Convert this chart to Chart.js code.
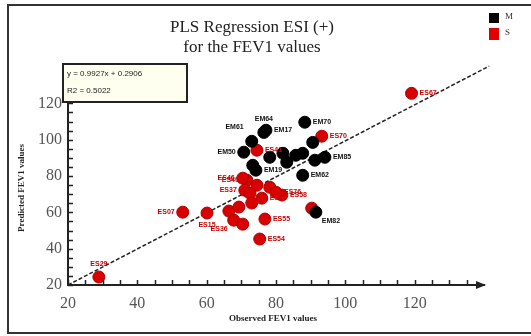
<!DOCTYPE html>
<html>
<head>
<meta charset="utf-8">
<script src="https://cdn.jsdelivr.net/npm/chart.js@4"></script>
<style>
  html, body { margin: 0; padding: 0; background: #fff; }
  #wrap { position: relative; width: 531px; height: 336px; overflow: hidden; }
  #frame { position: absolute; left: 7px; top: 4px; width: 540px; height: 330px;
           border: 2px solid #333; box-sizing: border-box; pointer-events: none; }
  canvas { position: absolute; left: 0; top: 0; }
</style>
</head>
<body>
<div id="wrap">
  <canvas id="chart" width="531" height="336"></canvas>
  <div id="frame"></div>
</div>
<script>
// ── Data ─────────────────────────────────────────────────────
const xTicks = [20, 40, 60, 80, 100, 120];
const yTicks = [20, 40, 60, 80, 100, 120];

// group M (black)
const mNames = ['EM70', 'EM17', 'EM64', 'EM61', 'EM50', 'EM41', 'EM73', 'EM88', 'EM85', 'EM77',
                'EM45', 'EM33', 'EM19', 'EM62', 'EM82', 'EM58', 'EM27'];
const mObserved  = [88.3, 77.1, 76.5, 73.0, 70.7, 82.0, 87.7, 90.6, 94.1, 91.2,
                    83.1, 73.3, 74.2, 87.7, 91.5, 85.7, 78.2];
const mPredicted = [109.6, 105.2, 104.0, 99.1, 93.1, 92.5, 92.5, 98.5, 90.3, 88.7,
                    87.6, 85.9, 83.2, 80.4, 60.1, 91.4, 90.3];
const mLabelSide = ['r', 'r', 't', 'tl', 'l', 'n', 'n', 'n', 'r', 'n',
                    'n', 'n', 'r', 'r', 'br', 'n', 'n'];

// group S (red)
const sNames = ['ES67', 'ES41', 'ES70', 'ES40', 'ES46', 'ES49', 'ES21', 'ES37', 'ES50', 'ES23',
                'ES60', 'ES58', 'ES07', 'ES15', 'ES31', 'ES22', 'ES36', 'ES33', 'ES54', 'ES55',
                'ES29', 'ES82', 'ES76'];
const sObserved  = [119.1, 74.5, 93.2, 71.6, 70.4, 74.5, 78.2, 71.0, 72.5, 75.9,
                    73.0, 81.7, 53.1, 60.1, 66.4, 69.3, 67.8, 70.4, 75.3, 76.8,
                    28.9, 90.3, 80.0];
const sPredicted = [125.5, 94.2, 101.9, 77.7, 78.8, 74.9, 73.8, 72.2, 70.5, 67.8,
                    65.1, 69.5, 60.1, 59.6, 60.7, 62.9, 55.7, 53.5, 45.3, 56.3,
                    24.4, 62.3, 71.0];
const sLabelSide = ['r', 'r', 'r', 'l', 'l', 'n', 'n', 'l', 'n', 'r',
                    'n', 'r', 'l', 'b', 'n', 'n', 'bl', 'n', 'r', 'r',
                    't', 'n', 'r'];

// dashed regression line end points
const fitX = [20, 141.5];
const fitY = [20, 140.5];
const fitText = ['y = 0.9927x + 0.2906', 'R2 = 0.5022'];

const toPoints = (xs, ys) => xs.map((x, i) => ({ x, y: ys[i] }));

// ── Decorations: title, legend, fit box, axis titles, point labels ──
const decor = {
  id: 'decor',
  afterDatasetsDraw(chart) {
    const ctx = chart.ctx;
    ctx.save();

    // point labels
    ctx.font = 'bold 7px "Liberation Sans", sans-serif';
    ctx.textBaseline = 'middle';
    [[0, mNames, mLabelSide, '#111'], [1, sNames, sLabelSide, '#c40000']].forEach(([di, names, sides, col]) => {
      const meta = chart.getDatasetMeta(di);
      ctx.fillStyle = col;
      meta.data.forEach((pt, i) => {
        const side = sides[i];
        if (side === 'n') return;
        let x = pt.x, y = pt.y, align = 'left';
        if (side === 'r') { x += 8; }
        else if (side === 'l') { x -= 8; align = 'right'; }
        else if (side === 't') { y -= 13; align = 'center'; }
        else if (side === 'b') { y += 12; align = 'center'; }
        else if (side === 'tl') { x -= 8; y -= 14; align = 'right'; }
        else if (side === 'br') { x += 6; y += 9; }
        else if (side === 'bl') { x -= 6; y += 9; align = 'right'; }
        ctx.textAlign = align;
        ctx.fillText(names[i], x, y);
      });
    });
    ctx.restore();
  },
  afterDraw(chart) {
    const ctx = chart.ctx;
    const { left, right, top, bottom } = chart.chartArea;
    ctx.save();

    // inward tick marks, every 5 units
    ctx.strokeStyle = '#222';
    ctx.lineWidth = 1.5;
    const xs = chart.scales.x, ys = chart.scales.y;
    ctx.beginPath();
    xs.ticks.forEach(t => {
      const px = Math.round(xs.getPixelForValue(t.value)) + 0.5;
      if (t.value >= xs.max) return;
      ctx.moveTo(px, bottom);
      ctx.lineTo(px, bottom - 5);
    });
    ys.ticks.forEach(t => {
      const py = Math.round(ys.getPixelForValue(t.value)) + 0.5;
      ctx.moveTo(left, py);
      ctx.lineTo(left + 5, py);
    });
    ctx.stroke();

    // x axis arrow head
    ctx.fillStyle = '#222';
    ctx.beginPath();
    ctx.moveTo(right + 2, bottom);
    ctx.lineTo(right - 8, bottom - 4);
    ctx.lineTo(right - 8, bottom + 4);
    ctx.closePath();
    ctx.fill();

    // title
    ctx.fillStyle = '#222';
    ctx.textAlign = 'center';
    ctx.textBaseline = 'middle';
    ctx.font = '17px "Liberation Serif", serif';
    ctx.fillText('PLS Regression ESI (+)', 252, 28);
    ctx.fillText('for the FEV1 values', 252, 48);

    // legend
    ctx.fillStyle = '#000';
    ctx.fillRect(489, 13, 10, 10);
    ctx.fillStyle = '#e00000';
    ctx.fillRect(489, 28, 10, 12);
    ctx.fillStyle = '#333';
    ctx.font = '9px "Liberation Serif", serif';
    ctx.textAlign = 'left';
    ctx.fillText('M', 505, 17);
    ctx.fillText('S', 505, 33);

    // regression box
    ctx.fillStyle = '#fffff0';
    ctx.fillRect(63, 64, 124, 38);
    ctx.strokeStyle = '#222';
    ctx.lineWidth = 2;
    ctx.strokeRect(63, 64, 124, 38);
    ctx.fillStyle = '#222';
    ctx.font = '8px "Liberation Sans", sans-serif';
    ctx.fillText(fitText[0], 67, 74);
    ctx.fillText(fitText[1], 67, 91);

    // axis titles
    ctx.font = 'bold 9px "Liberation Serif", serif';
    ctx.textAlign = 'center';
    ctx.fillText('Observed FEV1 values', 273, 319);
    ctx.translate(22, 188);
    ctx.rotate(-Math.PI / 2);
    ctx.fillText('Predicted FEV1 values', 0, 0);
    ctx.restore();
  }
};

const tickFont = { family: '"Liberation Serif", serif', size: 16 };

new Chart(document.getElementById('chart'), {
  type: 'scatter',
  data: {
    datasets: [
      {
        label: 'M',
        data: toPoints(mObserved, mPredicted),
        backgroundColor: '#000',
        borderColor: '#000',
        pointRadius: 6,
        pointHoverRadius: 6
      },
      {
        label: 'S',
        data: toPoints(sObserved, sPredicted),
        backgroundColor: '#d80000',
        borderColor: '#b00000',
        borderWidth: 1,
        pointRadius: 6,
        pointHoverRadius: 6
      },
      {
        type: 'line',
        label: 'fit',
        data: toPoints(fitX, fitY),
        borderColor: '#222',
        borderWidth: 1.5,
        borderDash: [4, 2],
        pointRadius: 0,
        clip: false
      }
    ]
  },
  options: {
    responsive: false,
    animation: false,
    layout: { padding: { left: 0, right: 47, top: 67, bottom: 0 } },
    plugins: { legend: { display: false }, tooltip: { enabled: false } },
    scales: {
      x: {
        type: 'linear',
        min: 20,
        max: 140,
        afterFit: s => { s.height = 51; },
        border: { color: '#222', width: 2 },
        grid: { drawOnChartArea: false, drawTicks: false },
        ticks: {
          stepSize: 5,
          autoSkip: false,
          maxRotation: 0,
          padding: 9,
          color: '#555',
          font: tickFont,
          callback: v => xTicks.includes(v) ? String(v) : ''
        }
      },
      y: {
        type: 'linear',
        min: 20,
        max: 140,
        afterFit: s => { s.width = 68; },
        border: { color: '#222', width: 2 },
        grid: { drawOnChartArea: false, drawTicks: false },
        ticks: {
          stepSize: 5,
          autoSkip: false,
          padding: 6,
          color: '#555',
          font: tickFont,
          callback: v => yTicks.includes(v) ? String(v) : ''
        }
      }
    }
  },
  plugins: [decor]
});
</script>
</body>
</html>
